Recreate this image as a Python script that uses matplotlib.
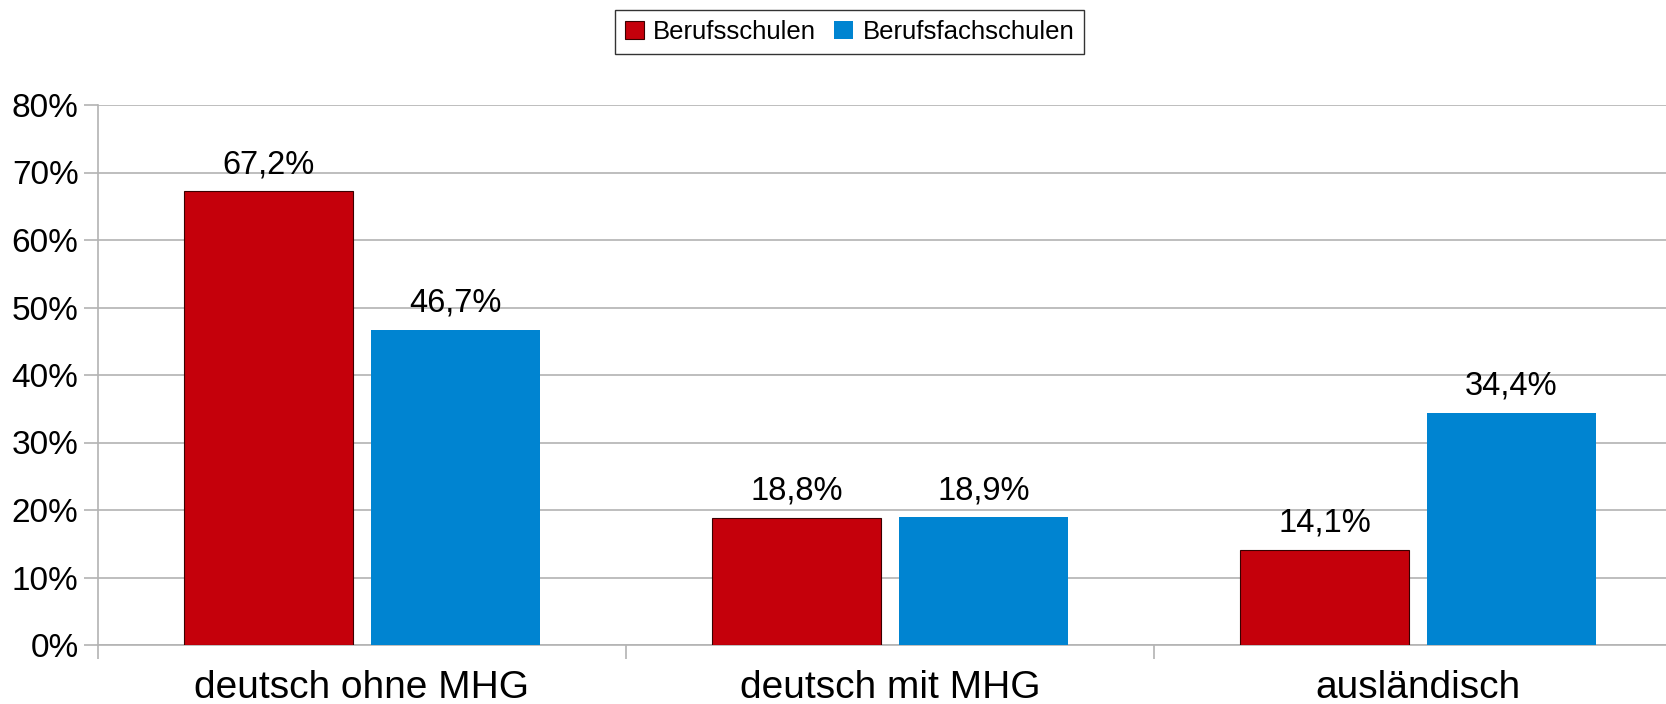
import matplotlib
matplotlib.use("Agg")
import matplotlib.pyplot as plt
import numpy as np

plt.rcParams['font.family'] = ['Liberation Sans', 'DejaVu Sans']

categories = ["deutsch ohne MHG", "deutsch mit MHG", "ausländisch"]
series_names = ["Berufsschulen", "Berufsfachschulen"]
berufsschulen = [67.2, 18.8, 14.1]
berufsfachschulen = [46.7, 18.9, 34.4]
yticks = [0, 10, 20, 30, 40, 50, 60, 70, 80]

red = "#c5000b"
blue = "#0084d1"
grid = "#b3b3b3"

W, H = 1666, 704
fig = plt.figure(figsize=(W / 100, H / 100), dpi=100)
left, right_px = 98, 98 + 3 * 528
bottom, top = 645, 105
ax = fig.add_axes([left / W, (H - bottom) / H, (right_px - left) / W, (bottom - top) / H])

x = np.arange(len(categories))
bw = 0.321
off = 0.1767
b1 = ax.bar(x - off, berufsschulen, bw, color=red, edgecolor="#3a0000", linewidth=0.8,
            label=series_names[0], zorder=3)
b2 = ax.bar(x + off, berufsfachschulen, bw, color=blue, linewidth=0,
            label=series_names[1], zorder=3)

for bars, vals in ((b1, berufsschulen), (b2, berufsfachschulen)):
    for rect, v in zip(bars, vals):
        ax.annotate(f"{v:.1f}%".replace(".", ","),
                    (rect.get_x() + rect.get_width() / 2, v),
                    xytext=(0, 8), textcoords="offset points",
                    ha="center", va="bottom", fontsize=23.5, color="black")

ax.set_xlim(-0.5, 2.5)
ax.set_ylim(0, 80)
ax.set_yticks(yticks)
ax.set_yticklabels([f"{t}%" for t in yticks], fontsize=24)
ax.yaxis.grid(True, color=grid, linewidth=1.2, zorder=0)
ax.set_axisbelow(True)

ax.set_xticks([-0.5, 0.5, 1.5, 2.5])
ax.set_xticklabels([])
ax.set_xticks(x, minor=True)
ax.set_xticklabels(categories, minor=True, fontsize=28)
ax.tick_params(axis="x", which="minor", length=0, pad=18)
ax.tick_params(axis="x", which="major", length=10, color=grid, width=1.2)
ax.tick_params(axis="y", length=10, color=grid, width=1.2, pad=4)

for s in ("top", "right"):
    ax.spines[s].set_visible(False)
for s in ("left", "bottom"):
    ax.spines[s].set_color(grid)
    ax.spines[s].set_linewidth(1.2)

leg = fig.legend(handles=[b1, b2], labels=series_names, loc="center",
                 bbox_to_anchor=(849.5 / W, 1 - 32 / H), ncol=2, fontsize=18.5,
                 frameon=True, fancybox=False, edgecolor="black",
                 handlelength=0.75, handleheight=0.75, handletextpad=0.35,
                 columnspacing=0.7, borderpad=0.38, borderaxespad=0)
leg.get_frame().set_linewidth(1.0)

fig.savefig("out.png", dpi=100)
